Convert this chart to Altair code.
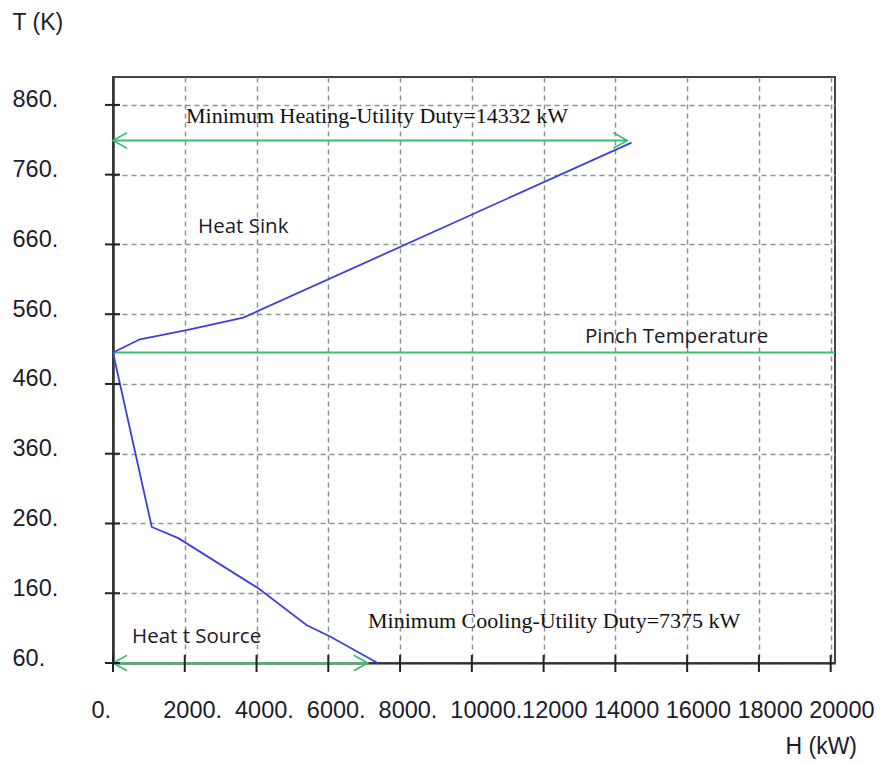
import altair as alt
import pandas as pd

# ---- axis ticks and labels ----
x_ticks = [0, 2000, 4000, 6000, 8000, 10000, 12000, 14000, 16000, 18000, 20000]
x_labels = ["0.", "2000.", "4000.", "6000.", "8000.", "10000.", "12000", "14000", "16000", "18000", "20000"]
y_ticks = [60, 160, 260, 360, 460, 560, 660, 760, 860]
y_labels = ["60.", "160.", "260.", "360.", "460.", "560.", "660.", "760.", "860."]

# ---- composite curves ----
sink_H = [0, 750, 2050, 3630, 14450]
sink_T = [505, 524, 537, 555, 806]
source_H = [0, 1080, 1820, 4050, 5400, 6050, 7375]
source_T = [505, 255, 239, 167, 114, 98, 60]

# ---- pinch and utility arrows ----
pinch_T = [505]
arrow_H1 = [0, 0]
arrow_H2 = [14332, 7100]
arrow_T = [809, 60]

# ---- annotations ----
serif_text = ["Minimum Heating-Utility Duty=14332 kW", "Minimum Cooling-Utility Duty=7375 kW"]
serif_H = [2034, 7106]
serif_T = [834, 110]
sans_text = ["Heat Sink", "Pinch Temperature", "Heat t Source"]
sans_H = [2369, 13154, 530]
sans_T = [676, 519, 89]

X_DOMAIN = [0, 20120]
Y_DOMAIN = [60, 900]
GREEN = "#3dba74"
BLUE = "#3f3fe0"
LABEL_FONT = "Liberation Sans"

curves = pd.DataFrame(
    {"H": sink_H + source_H,
     "T": sink_T + source_T,
     "curve": ["sink"] * len(sink_H) + ["source"] * len(source_H),
     "order": list(range(len(sink_H))) + list(range(len(source_H)))}
)
ticks_x_df = pd.DataFrame({"H": x_ticks})
ticks_y_df = pd.DataFrame({"T": y_ticks})
pinch_df = pd.DataFrame({"T": pinch_T})
arrows_df = pd.DataFrame({"H1": arrow_H1, "H2": arrow_H2, "T": arrow_T})
left_heads = pd.DataFrame({"H": arrow_H1, "T": arrow_T})
right_heads = pd.DataFrame({"H": arrow_H2, "T": arrow_T})
serif_df = pd.DataFrame({"H": serif_H, "T": serif_T, "text": serif_text})
sans_df = pd.DataFrame({"H": sans_H, "T": sans_T, "text": sans_text})

x_expr = "[" + ",".join("'%s'" % s for s in x_labels) + "][round(datum.value / 2000)]"
y_expr = "[" + ",".join("'%s'" % s for s in y_labels) + "][round((datum.value - 60) / 100)]"

xscale = alt.Scale(domain=X_DOMAIN, nice=False, zero=False)
yscale = alt.Scale(domain=Y_DOMAIN, nice=False, zero=False)

x_axis = alt.Axis(
    values=x_ticks, labelExpr=x_expr, title="H (kW)", grid=True,
    gridDash=[5, 4], gridColor="#929292", gridWidth=1.5,
    domain=True, domainColor="#333333", domainWidth=2,
    ticks=False, tickSize=0, labelPadding=54, labelBaseline="alphabetic",
    labelAlign="left", labelOffset=-22, labelFlush=False, labelOverlap=False,
    labelFont=LABEL_FONT, labelFontSize=23.5, labelColor="#1c1c2c",
    titleFont=LABEL_FONT, titleFontSize=23, titleFontWeight="normal", titleColor="#1c1c2c",
    titleAnchor="start", titleAlign="left", titleBaseline="alphabetic", titleX=672, titleY=90,
)
y_axis = alt.Axis(
    values=y_ticks, labelExpr=y_expr, title="T (K)", grid=True,
    gridDash=[5, 4], gridColor="#929292", gridWidth=1.5,
    domain=True, domainColor="#333333", domainWidth=2.5,
    ticks=False, tickSize=0, labelPadding=101, labelBaseline="alphabetic",
    labelAlign="left", labelOffset=2, labelFlush=False, labelOverlap=False,
    labelFont=LABEL_FONT, labelFontSize=23.5, labelColor="#1c1c2c",
    titleFont=LABEL_FONT, titleFontSize=23, titleFontWeight="normal", titleColor="#1c1c2c",
    titleAngle=0, titleAlign="left", titleBaseline="alphabetic", titleX=-101, titleY=-48,
)

base_grid = alt.Chart(ticks_x_df).mark_rule(opacity=0).encode(
    x=alt.X("H:Q", scale=xscale, axis=x_axis),
    y=alt.Y("H2:Q", scale=yscale, axis=y_axis),
).transform_calculate(H2="500")

xt = alt.Chart(ticks_x_df).mark_rule(color="#222222", strokeWidth=2).encode(
    x=alt.X("H:Q", scale=xscale), y=alt.value(578), y2=alt.value(595)
)
yt = alt.Chart(ticks_y_df).mark_rule(color="#222222", strokeWidth=2).encode(
    y=alt.Y("T:Q", scale=yscale), x=alt.value(-8), x2=alt.value(7)
)

pinch = alt.Chart(pinch_df).mark_rule(color=GREEN, strokeWidth=2).encode(
    y=alt.Y("T:Q", scale=yscale)
)
arrows = alt.Chart(arrows_df).mark_rule(color=GREEN, strokeWidth=2).encode(
    x=alt.X("H1:Q", scale=xscale), x2="H2:Q", y=alt.Y("T:Q", scale=yscale)
)
lh = alt.Chart(left_heads).mark_point(
    shape="M1,-0.55L0,0L1,0.55", size=784, filled=False, color=GREEN, strokeWidth=1.6, opacity=1
).encode(x=alt.X("H:Q", scale=xscale), y=alt.Y("T:Q", scale=yscale))
rh = alt.Chart(right_heads).mark_point(
    shape="M-1,-0.55L0,0L-1,0.55", size=784, filled=False, color=GREEN, strokeWidth=1.6, opacity=1
).encode(x=alt.X("H:Q", scale=xscale), y=alt.Y("T:Q", scale=yscale))

lines = alt.Chart(curves).mark_line(color=BLUE, strokeWidth=1.8).encode(
    x=alt.X("H:Q", scale=xscale),
    y=alt.Y("T:Q", scale=yscale),
    detail="curve:N",
    order="order:Q",
)

serif = alt.Chart(serif_df).mark_text(
    font="Liberation Serif", fontSize=22, align="left", baseline="alphabetic", color="#111111"
).encode(x=alt.X("H:Q", scale=xscale), y=alt.Y("T:Q", scale=yscale), text="text:N")
sans = alt.Chart(sans_df).mark_text(
    font="Open Sans", fontSize=20.5, align="left", baseline="alphabetic", color="#1a1a2a"
).encode(x=alt.X("H:Q", scale=xscale), y=alt.Y("T:Q", scale=yscale), text="text:N")

chart = alt.layer(
    base_grid, pinch, arrows, lh, rh, lines, xt, yt, serif, sans
).properties(
    width=722, height=586,
    autosize=alt.AutoSizeParams(type="none"),
    padding={"left": 113, "top": 77, "right": 45, "bottom": 102},
    background="white",
).configure_view(stroke="#444444", strokeWidth=2)

chart.save("out.html", embed_options={"renderer": "svg", "actions": False})
